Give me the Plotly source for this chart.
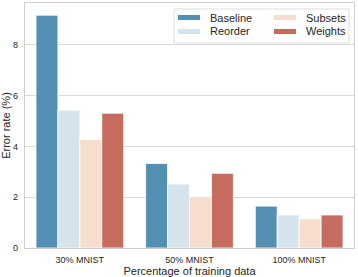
import plotly.graph_objects as go

categories = ["30% MNIST", "50% MNIST", "100% MNIST"]
series_names = ["Baseline", "Reorder", "Subsets", "Weights"]
baseline = [9.17, 3.33, 1.65]
reorder = [5.43, 2.52, 1.30]
subsets = [4.27, 2.03, 1.15]
weights = [5.31, 2.94, 1.30]
y_ticks = [0, 2, 4, 6, 8]

colors = ["#538fb3", "#d5e4ec", "#f6ddce", "#c56c5e"]
values = [baseline, reorder, subsets, weights]

W, H = 358, 277
ML, MR, MT, MB = 25, 4, 3, 29
PW, PH = W - ML - MR, H - MT - MB

fig = go.Figure()
for name, vals, col in zip(series_names, values, colors):
    fig.add_trace(go.Bar(
        x=categories, y=vals, name=name, showlegend=False,
        marker=dict(color=col, line=dict(color="white", width=0.8)),
    ))

font_fam = "Liberation Sans, Arial, sans-serif"
txt = "#262626"

def px_x(px):
    return (px - ML) / PW

def px_y(py):
    return 1 - (py - MT) / PH

# legend (manual, two columns)
shapes = []
annotations = []
shapes.append(dict(type="rect", xref="paper", yref="paper",
                   x0=px_x(174), x1=px_x(349), y0=px_y(43), y1=px_y(9),
                   line=dict(color="#dddddd", width=1), fillcolor="rgba(255,255,255,0.85)",
                   layer="above"))
col_x = [178, 274]
row_y = [17.5, 31.5]
order = [(0, 0), (0, 1), (1, 0), (1, 1)]
for i, (c, r) in enumerate(order):
    x0 = col_x[c]
    yc = row_y[r]
    shapes.append(dict(type="rect", xref="paper", yref="paper",
                       x0=px_x(x0), x1=px_x(x0 + 22), y0=px_y(yc + 2.5), y1=px_y(yc - 2.5),
                       line=dict(width=0), fillcolor=colors[i], layer="above"))
    annotations.append(dict(text=series_names[i], xref="paper", yref="paper",
                            x=px_x(x0 + 30), y=px_y(yc), xanchor="left", yanchor="middle",
                            showarrow=False, font=dict(size=11, color=txt, family=font_fam)))

fig.update_layout(
    width=W, height=H,
    margin=dict(l=ML, r=MR, t=MT, b=MB),
    paper_bgcolor="white", plot_bgcolor="white",
    barmode="group", bargap=0.2, bargroupgap=0,
    font=dict(family=font_fam, color=txt, size=9),
    shapes=shapes, annotations=annotations,
    xaxis=dict(
        automargin=False,
        showline=True, linecolor="#cfcfcf", linewidth=1.2, mirror=True,
        showgrid=False, ticks="outside", ticklen=3, tickcolor="rgba(0,0,0,0)",
        tickfont=dict(size=9, color=txt),
        title=dict(text="Percentage of training data", font=dict(size=11, color=txt)),
    ),
    yaxis=dict(
        automargin=False,
        range=[0, 9.65], tickvals=y_ticks, ticktext=[str(t) for t in y_ticks],
        showline=True, linecolor="#cfcfcf", linewidth=1.2, mirror=True,
        showgrid=True, gridcolor="#d9d9d9", gridwidth=1, zeroline=False,
        ticks="outside", ticklen=4, tickcolor="rgba(0,0,0,0)",
        tickfont=dict(size=9, color=txt),
        title=dict(text="Error rate (%)", font=dict(size=11, color=txt)),
    ),
)

fig.write_html("out.html", config={"displayModeBar": False},
               post_script="document.body.style.margin='0';document.body.style.overflow='hidden';")
